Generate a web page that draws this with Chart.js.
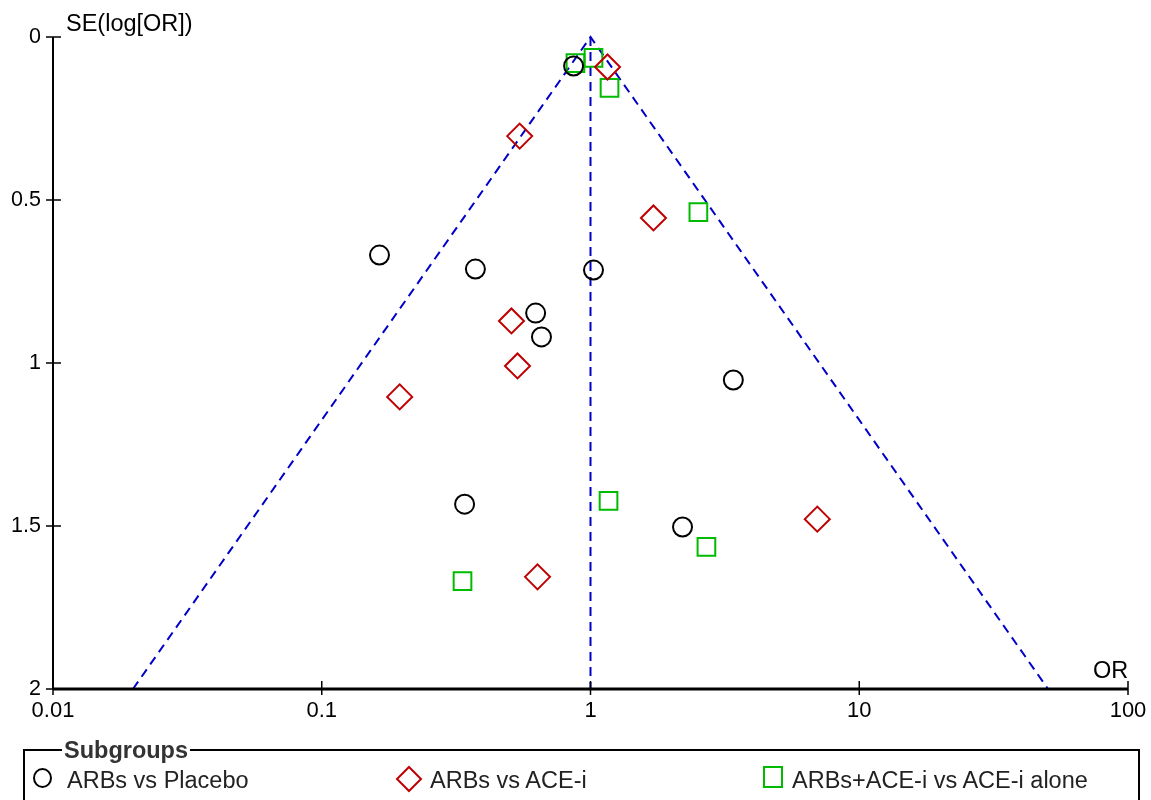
<!DOCTYPE html>
<html><head><meta charset="utf-8">
<script src="https://cdn.jsdelivr.net/npm/chart.js@4"></script>
<style>
html,body{margin:0;padding:0;background:#fff;}
#wrap{position:relative;width:1151px;height:800px;overflow:hidden;font-family:"Liberation Sans",Arial,sans-serif;}
canvas{position:absolute;left:0;top:0;}
.lbl{position:absolute;font-size:23.5px;color:#000;white-space:nowrap;line-height:24px;}
#legend{position:absolute;left:23px;top:749px;width:1117px;height:80px;border:2px solid #000;box-sizing:border-box;}
#legTitle{position:absolute;left:37px;top:-13px;background:#fff;padding:0 2px;font-weight:bold;font-size:23.5px;color:#333;line-height:24px;}
.item{position:absolute;top:17px;font-size:23.5px;line-height:24px;color:#222;white-space:nowrap;}
.mk{position:absolute;box-sizing:border-box;}
</style></head>
<body><div id="wrap">
<canvas id="c" width="1151" height="800"></canvas>
<div class="lbl" style="left:66px;top:11px;">SE(log[OR])</div>
<div class="lbl" style="left:1093px;top:658px;">OR</div>
<div id="legend">
  <div id="legTitle">Subgroups</div>
  <div class="mk" style="left:8px;top:17px;width:19px;height:20px;border:2px solid #000;border-radius:50%;"></div>
  <div class="item" style="left:42px;">ARBs vs Placebo</div>
  <svg class="mk" style="left:370px;top:14px;" width="28" height="28"><polygon points="14,2 26,14 14,26 2,14" fill="none" stroke="#C00000" stroke-width="2"/></svg>
  <div class="item" style="left:405px;">ARBs vs ACE-i</div>
  <div class="mk" style="left:738px;top:15px;width:20px;height:22px;border:2px solid #00BB00;"></div>
  <div class="item" style="left:767px;">ARBs+ACE-i vs ACE-i alone</div>
</div>
</div>
<script>
// Data
const placeboOR = [0.865, 0.164, 0.373, 1.026, 0.625, 0.657, 3.40, 0.340, 2.20];
const placeboSE = [0.089, 0.669, 0.712, 0.715, 0.847, 0.920, 1.052, 1.433, 1.503];
const aceOR = [1.157, 0.545, 1.715, 0.508, 0.535, 0.195, 6.98, 0.635];
const aceSE = [0.092, 0.304, 0.555, 0.871, 1.009, 1.104, 1.479, 1.656];
const comboOR = [0.879, 1.026, 1.177, 2.52, 1.167, 2.70, 0.334];
const comboSE = [0.080, 0.064, 0.156, 0.537, 1.423, 1.564, 1.669];
const pooledOR = 1.0;
const funnelSEmax = 2;
const xTicks = [0.01, 0.1, 1, 10, 100];
const xTickLabels = ['0.01', '0.1', '1', '10', '100'];
const yTicks = [0, 0.5, 1, 1.5, 2];
const yTickLabels = ['0', '0.5', '1', '1.5', '2'];

const pts = (xs, ys) => xs.map((x, i) => ({x: x, y: ys[i]}));
const funnel = [
  {x: pooledOR * Math.exp(-1.96 * funnelSEmax), y: funnelSEmax},
  {x: pooledOR, y: 0},
  {x: pooledOR * Math.exp(1.96 * funnelSEmax), y: funnelSEmax}
];
const centre = [{x: pooledOR, y: 0}, {x: pooledOR, y: funnelSEmax}];
const blue = '#0000C8';

const tickPlugin = {
  id: 'crossTicks',
  afterDraw(chart) {
    const ctx = chart.ctx, xs = chart.scales.x, ys = chart.scales.y;
    const ca = chart.chartArea;
    ctx.save();
    ctx.strokeStyle = '#000';
    ctx.lineWidth = 2;
    ctx.beginPath();
    ctx.moveTo(ca.left, ys.getPixelForValue(0)); ctx.lineTo(ca.left, ys.getPixelForValue(2));
    ctx.stroke();
    ctx.lineWidth = 3;
    ctx.beginPath();
    ctx.moveTo(ca.left, ca.bottom); ctx.lineTo(xs.getPixelForValue(100), ca.bottom);
    ctx.stroke();
    ctx.lineWidth = 1.5;
    ctx.beginPath();
    yTicks.forEach(v => { const p = ys.getPixelForValue(v); ctx.moveTo(ca.left - 7, p); ctx.lineTo(ca.left + 8, p); });
    xTicks.forEach(v => { const p = xs.getPixelForValue(v); ctx.moveTo(p, ca.bottom - 8); ctx.lineTo(p, ca.bottom + 6); });
    ctx.stroke();
    ctx.restore();
  }
};

new Chart(document.getElementById('c'), {
  type: 'scatter',
  data: {
    datasets: [
      {type: 'line', data: funnel, borderColor: blue, borderWidth: 2, borderDash: [9, 6], pointRadius: 0, fill: false, tension: 0, order: 5},
      {type: 'line', data: centre, borderColor: blue, borderWidth: 2, borderDash: [9, 6], pointRadius: 0, fill: false, order: 5},
      {label: 'ARBs vs Placebo', data: pts(placeboOR, placeboSE), pointStyle: 'circle', pointRadius: 9.5, borderColor: '#000', borderWidth: 2, backgroundColor: 'rgba(0,0,0,0)', order: 1},
      {label: 'ARBs vs ACE-i', data: pts(aceOR, aceSE), pointStyle: 'rectRot', pointRadius: 12.5, borderColor: '#C00000', borderWidth: 2, backgroundColor: 'rgba(0,0,0,0)', order: 1},
      {label: 'ARBs+ACE-i vs ACE-i alone', data: pts(comboOR, comboSE), pointStyle: 'rect', pointRadius: 12.5, borderColor: '#00BB00', borderWidth: 2, backgroundColor: 'rgba(0,0,0,0)', order: 1}
    ]
  },
  options: {
    responsive: false,
    animation: false,
    clip: false,
    layout: {padding: {left: 0, right: 23, top: 37, bottom: 71}},
    plugins: {legend: {display: false}, tooltip: {enabled: false}},
    scales: {
      x: {
        type: 'logarithmic', min: 0.01, max: 100,
        afterBuildTicks: s => { s.ticks = xTicks.map(v => ({value: v})); },
        afterFit: s => { s.height = 40; s.paddingLeft = 0; s.paddingRight = 0; },
        grid: {display: false, drawTicks: false},
        border: {display: false},
        ticks: {color: '#000', font: {family: 'Liberation Sans', size: 22}, padding: 9, maxRotation: 0,
          callback: (v) => { const i = xTicks.indexOf(v); return i >= 0 ? xTickLabels[i] : ''; }}
      },
      y: {
        type: 'linear', min: 0, max: 2, reverse: true,
        afterBuildTicks: s => { s.ticks = yTicks.map(v => ({value: v})); },
        afterFit: s => { s.width = 53; s.paddingTop = 0; s.paddingBottom = 0; },
        grid: {display: false, drawTicks: false},
        border: {display: false},
        ticks: {color: '#000', font: {family: 'Liberation Sans', size: 21.5}, padding: 12,
          callback: (v) => { const i = yTicks.indexOf(v); return i >= 0 ? yTickLabels[i] : ''; }}
      }
    }
  },
  plugins: [tickPlugin]
});
</script>
</body></html>
